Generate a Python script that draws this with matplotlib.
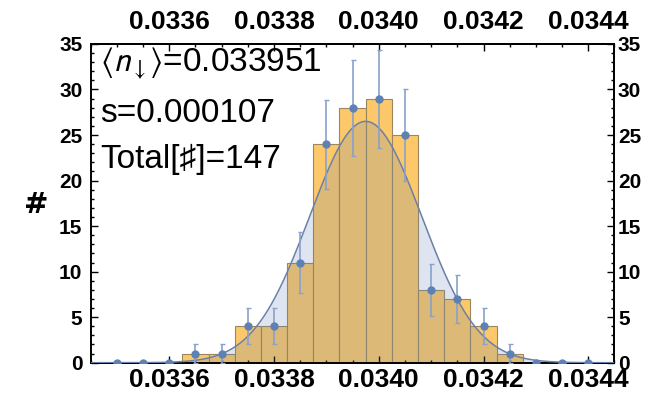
import numpy as np
import matplotlib
matplotlib.use("Agg")
import matplotlib.pyplot as plt
from matplotlib.ticker import MultipleLocator, FormatStrFormatter

plt.rcParams['font.family'] = ['Liberation Sans', 'DejaVu Sans']
plt.rcParams['mathtext.fontset'] = 'stixsans'

# histogram of <n_down>, bins of width 0.00005
bin_centers = [0.03350, 0.03355, 0.03360, 0.03365, 0.03370, 0.03375, 0.03380,
               0.03385, 0.03390, 0.03395, 0.03400, 0.03405, 0.03410, 0.03415,
               0.03420, 0.03425, 0.03430, 0.03435, 0.03440]
counts = [0, 0, 0, 1, 1, 4, 4, 11, 24, 28, 29, 25, 8, 7, 4, 1, 0, 0, 0]
bin_width = 0.00005

# gaussian fit drawn over the histogram
fit_mean = 0.033975
fit_sigma = 0.000107
fit_peak = 26.5

stats_lines = [r"$\langle n_{\downarrow}\rangle$=0.033951", "s=0.000107", "Total[\u266f]=147"]

x_ticks = [0.0336, 0.0338, 0.0340, 0.0342, 0.0344]
x_range = (0.03345, 0.03445)
y_range = (0, 35)

orange = "#fdc869"
blue = "#5e81b5"

fig = plt.figure(figsize=(6.64, 3.96), dpi=100)
ax = fig.add_axes([0.1366, 0.0841, 0.7888, 0.8049])

counts = np.array(counts)
ax.bar(bin_centers, counts, width=bin_width, color=orange,
       edgecolor="#9a8760", linewidth=0.8, zorder=1)

xs = np.linspace(x_range[0], x_range[1], 400)
ys = fit_peak * np.exp(-(xs - fit_mean) ** 2 / (2 * fit_sigma ** 2))
ax.fill_between(xs, 0, ys, color=blue, alpha=0.2, linewidth=0, zorder=2)
ax.plot(xs, ys, color="#6b80a8", linewidth=1.1, zorder=3)

ax.errorbar(bin_centers, counts, yerr=np.sqrt(counts), fmt="none",
            ecolor="#88a2cb", elinewidth=1.2, capsize=1.8, capthick=1.0, zorder=4)
ax.plot(bin_centers, counts, "o", color=blue, markersize=5, zorder=5)

ax.set_xlim(*x_range)
ax.set_ylim(*y_range)

# bottom / left ticks
ax.set_xticks(x_ticks)
ax.xaxis.set_major_formatter(FormatStrFormatter("%.4f"))
ax.xaxis.set_minor_locator(MultipleLocator(0.00005))
ax.yaxis.set_major_locator(MultipleLocator(5))
ax.yaxis.set_minor_locator(MultipleLocator(1))
ax.tick_params(which="both", direction="in", width=1.0)
ax.tick_params(which="major", length=5)
ax.tick_params(which="minor", length=2.5)
ax.tick_params(axis="x", pad=4, labelsize=19)
ax.tick_params(axis="y", pad=6, labelsize=15)
for lab in ax.get_xticklabels() + ax.get_yticklabels():
    lab.set_fontweight("bold")

# top / right copies
top = ax.secondary_xaxis("top")
top.set_xticks(x_ticks)
top.xaxis.set_major_formatter(FormatStrFormatter("%.4f"))
top.xaxis.set_minor_locator(MultipleLocator(0.00005))
top.tick_params(which="both", direction="in", width=1.0)
top.tick_params(which="major", length=5, pad=7, labelsize=19)
top.tick_params(which="minor", length=2.5)
for lab in top.get_xticklabels():
    lab.set_fontweight("bold")

right = ax.secondary_yaxis("right")
right.yaxis.set_major_locator(MultipleLocator(5))
right.yaxis.set_minor_locator(MultipleLocator(1))
right.tick_params(which="both", direction="in", width=1.0)
right.tick_params(which="major", length=5, pad=2.5, labelsize=15)
right.tick_params(which="minor", length=2.5)
for lab in right.get_yticklabels():
    lab.set_fontweight("bold")

for sp in list(ax.spines.values()) + list(top.spines.values()) + list(right.spines.values()):
    sp.set_linewidth(1.4)

# stats text in the upper left
for line, ypos in zip(stats_lines, [0.912, 0.755, 0.611]):
    ax.text(0.018, ypos, line, transform=ax.transAxes, fontsize=24,
            ha="left", va="baseline", zorder=6)

fig.text(36 / 664, 1 - 205 / 396, "#", fontsize=21, fontweight="bold",
         ha="center", va="center", family=["DejaVu Sans"])

fig.savefig("out.png", dpi=100)
